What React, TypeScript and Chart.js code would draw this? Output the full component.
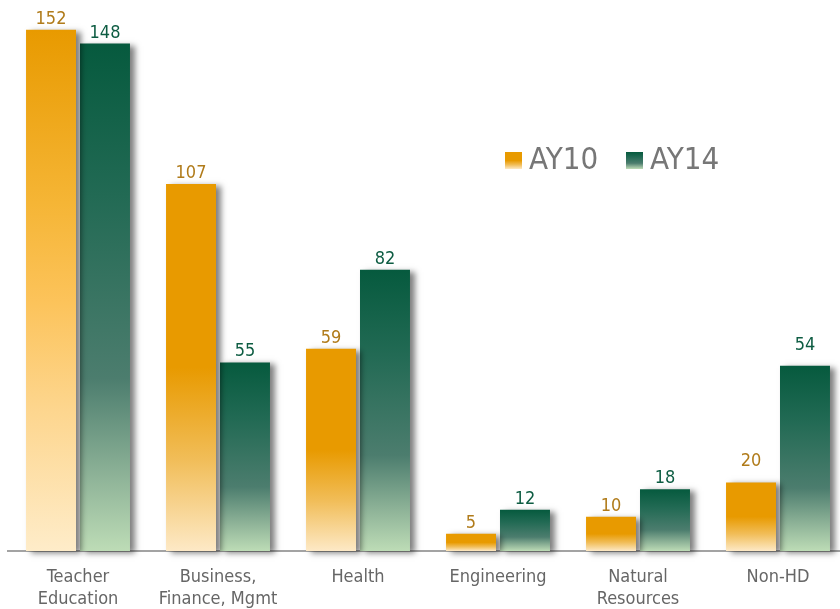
import React, { useEffect, useRef } from "react";
import { Chart, registerables } from "chart.js";

Chart.register(...registerables);

const categories: string[][] = [
  ["Teacher", "Education"],
  ["Business,", "Finance, Mgmt"],
  ["Health"],
  ["Engineering"],
  ["Natural", "Resources"],
  ["Non-HD"],
];
const seriesNames = ["AY10", "AY14"];
const ay10 = [152, 107, 59, 5, 10, 20];
const ay14 = [148, 55, 82, 12, 18, 54];

const FONT = "'DejaVu Sans Condensed', 'DejaVu Sans', sans-serif";

// extra lift (px) of value labels for the last category, as in the original slide
const LABEL_LIFT = [0, 0, 0, 0, 0, 10];

const orangeStops: [number, string][] = [
  [0, "#e89a00"],
  [0.5, "#e89a00"],
  [0.75, "#f1bd58"],
  [1, "#fde9c6"],
];
const orangeStopsTall: [number, string][] = [
  [0, "#e89a00"],
  [0.33, "#f5b535"],
  [0.52, "#fcc35a"],
  [0.72, "#fdd58c"],
  [1, "#feecc9"],
];
const greenStops: [number, string][] = [
  [0, "#065a3e"],
  [0.3, "#226a54"],
  [0.66, "#4c7d6e"],
  [0.85, "#8db297"],
  [1, "#bddcb6"],
];

function makeGradient(ctx: CanvasRenderingContext2D, top: number, bottom: number, stops: [number, string][]) {
  const g = ctx.createLinearGradient(0, top, 0, bottom);
  stops.forEach(([o, c]) => g.addColorStop(o, c));
  return g;
}

function barColor(series: number) {
  return (c: any) => {
    const chart = c.chart;
    if (!chart.chartArea || c.type !== "data") return series === 0 ? "#e89a00" : "#065a3e";
    const y = chart.scales.y;
    const top = y.getPixelForValue(c.raw);
    const bottom = y.getPixelForValue(0);
    const stops = series === 0 ? (c.dataIndex === 0 ? orangeStopsTall : orangeStops) : greenStops;
    return makeGradient(chart.ctx, top, bottom, stops);
  };
}

const decorPlugin = {
  id: "decor",
  beforeDatasetsDraw(chart: any) {
    const ctx = chart.ctx;
    ctx.save();
    ctx.shadowColor = "rgba(0,0,0,0.5)";
    ctx.shadowBlur = 6;
    ctx.shadowOffsetX = 5;
    ctx.shadowOffsetY = 2;
  },
  afterDatasetsDraw(chart: any) {
    const ctx = chart.ctx;
    ctx.restore();
    const labelColors = ["#b07b1a", "#0d5c42"];
    ctx.save();
    ctx.font = `18px ${FONT}`;
    ctx.textAlign = "center";
    ctx.textBaseline = "alphabetic";
    chart.data.datasets.forEach((ds: any, di: number) => {
      const meta = chart.getDatasetMeta(di);
      ctx.fillStyle = labelColors[di];
      meta.data.forEach((el: any, i: number) => {
        ctx.fillText(String(ds.data[i]), el.x, el.y - 6 - LABEL_LIFT[i]);
      });
    });
    // legend
    const items = [
      { x: 505, text: seriesNames[0], stops: orangeStops },
      { x: 626, text: seriesNames[1], stops: greenStops },
    ];
    items.forEach((it) => {
      ctx.fillStyle = makeGradient(ctx, 152, 169, it.stops);
      ctx.fillRect(it.x, 152, 17, 17);
      ctx.fillStyle = "#777777";
      ctx.font = `31px ${FONT}`;
      ctx.textAlign = "left";
      ctx.textBaseline = "middle";
      ctx.fillText(it.text, it.x + 24, 161);
    });
    ctx.restore();
  },
};

export default function App() {
  const ref = useRef<HTMLCanvasElement | null>(null);
  useEffect(() => {
    if (!ref.current) return;
    const chart = new Chart(ref.current, {
      type: "bar",
      data: {
        labels: categories as any,
        datasets: [
          { label: seriesNames[0], data: ay10, backgroundColor: barColor(0) as any, clip: false as any },
          { label: seriesNames[1], data: ay14, backgroundColor: barColor(1) as any, clip: false as any },
        ],
      },
      options: {
        responsive: false,
        animation: false,
        devicePixelRatio: 1,
        layout: { padding: { left: 8, right: 0, top: 0, bottom: 0 } },
        datasets: { bar: { categoryPercentage: 0.771, barPercentage: 0.926 } },
        plugins: { legend: { display: false }, tooltip: { enabled: false } },
        scales: {
          x: {
            grid: { display: false },
            border: { display: true, color: "#a3a3a3", width: 2 },
            ticks: {
              color: "#666666",
              font: { family: FONT, size: 18 },
              padding: 8,
              maxRotation: 0,
              autoSkip: false,
            },
            afterFit: (s: any) => {
              s.height = 58;
            },
          },
          y: {
            display: false,
            min: 0,
            max: 160.7,
          },
        },
      },
      plugins: [decorPlugin],
    });
    return () => chart.destroy();
  }, []);
  return (
    <div style={{ position: "fixed", left: 0, top: 0, width: 840, height: 609, overflow: "hidden", background: "#fff" }}>
      <canvas ref={ref} width={848} height={609} style={{ display: "block" }} />
    </div>
  );
}
